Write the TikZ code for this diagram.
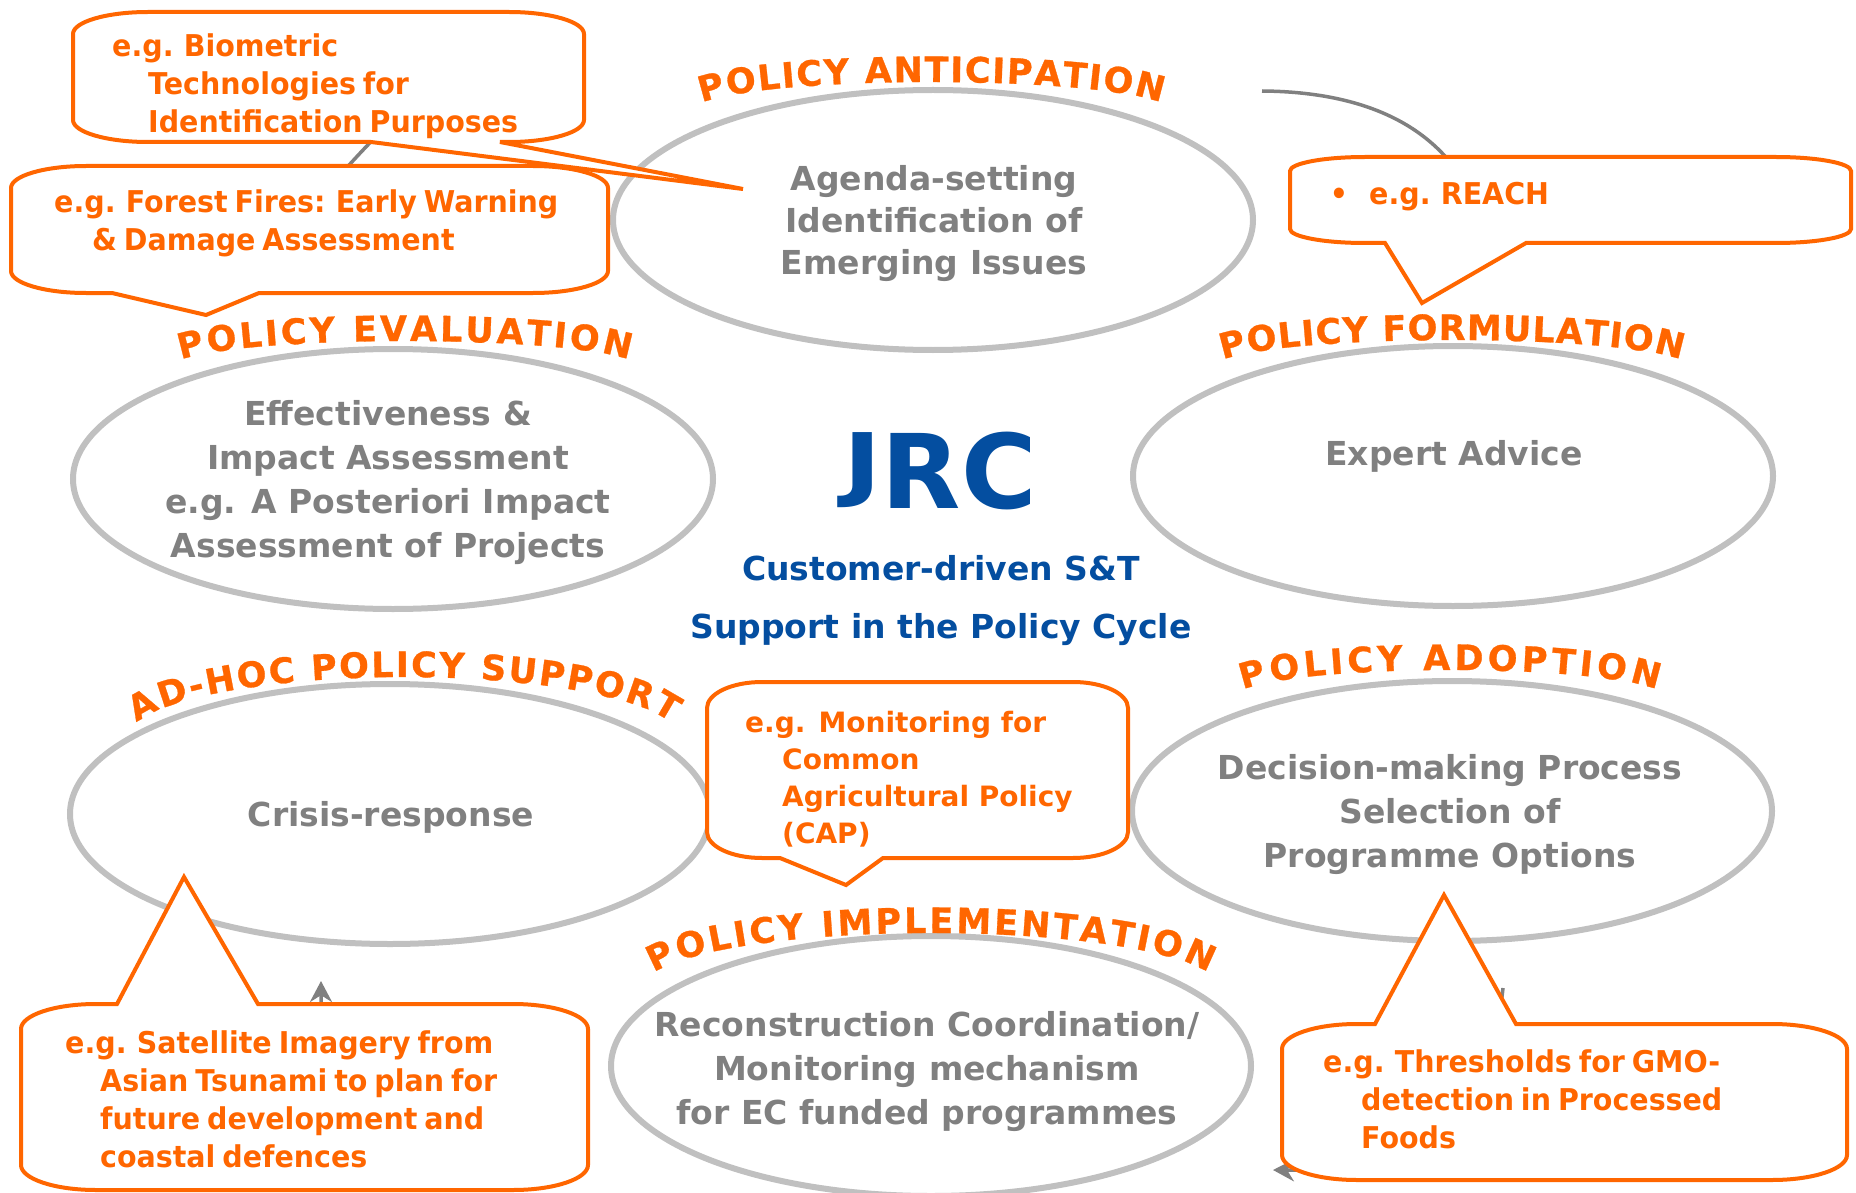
\documentclass[tikz,border=0pt]{standalone}
\usepackage{fontspec}
\setmainfont{DejaVu Sans}
\newfontfamily\condf[FakeStretch=0.95,WordSpace=0.7]{DejaVu Sans}
\newfontfamily\hdfam[FakeBold=0.8]{DejaVu Sans}
\usetikzlibrary{shapes.geometric,arrows.meta,decorations.text}
\definecolor{orng}{RGB}{255,102,0}
\definecolor{jrcblue}{RGB}{4,78,160}
\definecolor{txtgray}{RGB}{128,128,128}
\definecolor{ellgray}{RGB}{192,192,192}
\definecolor{conngray}{RGB}{128,128,128}
\newcommand\hdfont{\hdfam\fontsize{35}{35}\selectfont\bfseries\color{orng}}
% bottom-pointer callout: L T R B rx ry p1 p2 tip
\newcommand\cobot[9]{%
  \draw[callout] ({#1+#5},#2) -- ({#3-#5},#2)
    arc[start angle=270,end angle=360,x radius=#5,y radius=#6] -- (#3,{#4-#6})
    arc[start angle=0,end angle=90,x radius=#5,y radius=#6] -- (#8,#4) -- #9 -- (#7,#4) -- ({#1+#5},#4)
    arc[start angle=90,end angle=180,x radius=#5,y radius=#6] -- (#1,{#2+#6})
    arc[start angle=180,end angle=270,x radius=#5,y radius=#6] -- cycle;}
% top-pointer callout
\newcommand\cotop[9]{%
  \draw[callout] ({#1+#5},#2) -- (#7,#2) -- #9 -- (#8,#2) -- ({#3-#5},#2)
    arc[start angle=270,end angle=360,x radius=#5,y radius=#6] -- (#3,{#4-#6})
    arc[start angle=0,end angle=90,x radius=#5,y radius=#6] -- ({#1+#5},#4)
    arc[start angle=90,end angle=180,x radius=#5,y radius=#6] -- (#1,{#2+#6})
    arc[start angle=180,end angle=270,x radius=#5,y radius=#6] -- cycle;}
\tikzset{
  ell/.style={draw=ellgray, line width=6pt, ellipse, minimum width=640pt, minimum height=260pt, inner sep=0pt},
  elltxt/.style={text=txtgray, font=\bfseries\fontsize{33}{44}\selectfont, align=center, inner sep=0pt},
  callout/.style={draw=orng, line width=4pt, fill=white, line join=miter},
  cotxt/.style={text=orng, font=\condf\bfseries\fontsize{30}{38}\selectfont, align=left, anchor=north west, inner sep=0pt},
  conn/.style={draw=conngray, line width=3.5pt, -{Stealth[length=21pt,width=22pt]}},
  hd/.style={decorate, decoration={text along path, text={|\hdfont|#1}, text align=fit to path}},
  blue/.style={text=jrcblue, inner sep=0pt, anchor=base}
}
\begin{document}
\begin{tikzpicture}[x=1pt,y=-1pt]
\useasboundingbox (0,0) rectangle (1856,1193);
\fill[white] (0,0) rectangle (1856,1193);

% ellipses
\node[ell] (ant) at (933,220) {};
\node[ell] (eva) at (393,479) {};
\node[ell] (frm) at (1453,476) {};
\node[ell] (adh) at (390,814) {};
\node[ell] (ado) at (1452,811) {};
\node[ell] (imp) at (931,1066) {};

% cycle connectors (mostly hidden behind callouts)
\coordinate (antOut) at (1262,91);
\coordinate (frmIn) at (1480,215);
\draw[conn] (antOut) .. controls (1385,92) and (1448,140) .. (frmIn);
\coordinate (evaOut) at (305,215);
\coordinate (antIn) at (415,100);
\draw[conn] (evaOut) .. controls (335,180) and (375,135) .. (antIn);
\coordinate (impOut) at (560,1160);
\coordinate (adhIn) at (321,981);
\draw[conn] (impOut) .. controls (420,1160) and (321,1100) .. (adhIn);
\coordinate (adoOut) at (1503,988);
\coordinate (impIn) at (1273,1170);
\draw[conn] (adoOut) .. controls (1490,1110) and (1420,1172) .. (impIn);

% callouts
\cobot{11}{166}{608}{293}{75}{22}{112}{259}{(206,315)}
\cobot{73}{12}{584}{142}{75}{22}{371}{500}{(743,189)}
\cobot{1290}{157}{1851}{243}{75}{14}{1385}{1526}{(1422,303)}
\cobot{707}{682}{1128}{858}{55}{26}{780}{883}{(846,885)}
\cotop{21}{1004}{588}{1190}{75}{25}{117}{258}{(184,877)}
\cotop{1282}{1024}{1847}{1180}{75}{25}{1375}{1516}{(1444,895)}

% callout texts
\node[cotxt] (bioT) at (112,34) {e.g. Biometric\\\hspace*{36pt}Technologies for\\\hspace*{36pt}Identification Purposes};
\node[cotxt] (fireT) at (54,190) {e.g. Forest Fires: Early Warning\\\hspace*{38pt}\& Damage Assessment};
\node[text=orng, font=\condf\bfseries\fontsize{30}{30}\selectfont, anchor=base, inner sep=0pt] (reachB) at (1339,205) {•};
\node[text=orng, font=\condf\bfseries\fontsize{30}{30}\selectfont, anchor=base west, inner sep=0pt] (reachT) at (1369,205) {e.g. REACH};
\node[cotxt, font=\bfseries\fontsize{28}{37}\selectfont] (capT) at (745,711) {e.g. Monitoring for\\\hspace*{37pt}Common\\\hspace*{37pt}Agricultural Policy\\\hspace*{37pt}(CAP)};
\node[cotxt] (tsuT) at (65,1030) {e.g. Satellite Imagery from\\\hspace*{35pt}Asian Tsunami to plan for\\\hspace*{35pt}future development and\\\hspace*{35pt}coastal defences};
\node[cotxt] (gmoT) at (1323,1049) {e.g. Thresholds for GMO-\\\hspace*{38pt}detection in Processed\\\hspace*{38pt}Foods};

% ellipse texts
\node[elltxt, font=\bfseries\fontsize{33}{42}\selectfont] (antT) at (934,224) {Agenda-setting\\Identification of\\Emerging Issues};
\node[elltxt] (evaT) at (388,483) {Effectiveness \&\\Impact Assessment\\e.g. A Posteriori Impact\\Assessment of Projects};
\node[elltxt] (frmT) at (1454,456) {Expert Advice};
\node[elltxt] (adhT) at (391,817) {Crisis-response};
\node[elltxt] (adoT) at (1450,815) {Decision-making Process\\Selection of\\Programme Options};
\node[elltxt] (impT) at (927,1072) {Reconstruction Coordination/\\Monitoring mechanism\\for EC funded programmes};

% centre
\node[blue, font=\bfseries\fontsize{103}{103}\selectfont] (jrc) at (940,508) {\raisebox{0.157em}{\scalebox{1}[0.785]{J}}RC};
\node[blue, font=\bfseries\fontsize{33}{33}\selectfont] (cust) at (941,580) {Customer-driven S\&T};
\node[blue, font=\bfseries\fontsize{33}{33}\selectfont] (supp) at (941,638) {Support in the Policy Cycle};

% arched headings
\path[hd={POLICY ANTICIPATION}] (931.5,109.7) ++(194:236.6 and 27.7) arc[start angle=194,end angle=346,x radius=236.6,y radius=27.7];
\path[hd={POLICY EVALUATION}] (405,366.1) ++(194:230.9 and 25.1) arc[start angle=194,end angle=346,x radius=230.9,y radius=25.1];
\path[hd={POLICY FORMULATION}] (1452,366.4) ++(194:236.1 and 26.4) arc[start angle=194,end angle=346,x radius=236.1,y radius=26.4];
\path[hd={POLICY ADOPTION}] (1450,696.4) ++(194:213.4 and 26.4) arc[start angle=194,end angle=346,x radius=213.4,y radius=26.4];
\path[hd={POLICY IMPLEMENTATION}] (931,985.8) ++(194:285.6 and 52.8) arc[start angle=194,end angle=346,x radius=285.6,y radius=52.8];
\path[hd={AD-HOC POLICY SUPPORT}] (404,737.7) ++(194:275.3 and 60.7) arc[start angle=194,end angle=346,x radius=275.3,y radius=60.7];
\end{tikzpicture}
\end{document}
